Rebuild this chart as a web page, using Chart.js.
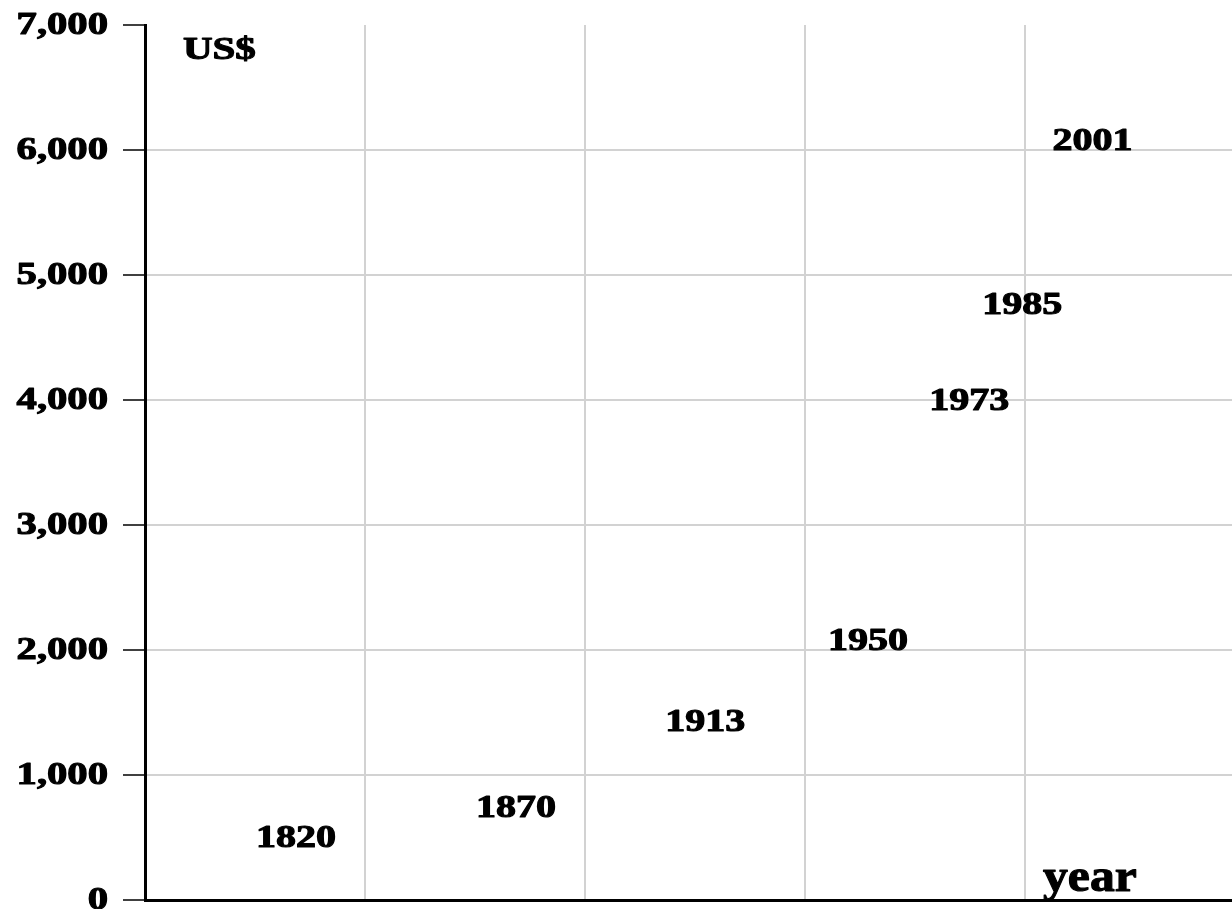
<!DOCTYPE html>
<html>
<head>
<meta charset="utf-8">
<script src="https://cdn.jsdelivr.net/npm/chart.js@4"></script>
<style>
  html, body { margin: 0; padding: 0; background: #fff; }
  #wrap { width: 1232px; height: 909px; position: relative; }
</style>
</head>
<body>
<div id="wrap"><canvas id="chart"></canvas></div>
<script>
// data
const years = [1820, 1870, 1913, 1950, 1973, 1985, 2001];
const gdpPerCapita = [510, 750, 1440, 2090, 4010, 4780, 6090];
const yTickValues = [0, 1000, 2000, 3000, 4000, 5000, 6000, 7000];
const xGridYears = [1800, 1850, 1900, 1950, 2000];

const serif = '"Liberation Serif", "Times New Roman", serif';
const gridGray = '#d2d2d2';

// draw text stretched horizontally like the original, a bit heavier
function drawStretched(ctx, text, x, y, sx, align) {
  ctx.save();
  ctx.translate(x, y);
  ctx.scale(sx, 1);
  ctx.textAlign = align;
  ctx.textBaseline = 'alphabetic';
  ctx.lineWidth = 1.1;
  ctx.lineJoin = 'round';
  ctx.strokeStyle = '#000';
  ctx.fillText(text, 0, 0);
  ctx.strokeText(text, 0, 0);
  ctx.restore();
}

const textPlugin = {
  id: 'textPlugin',
  afterDraw(chart) {
    const { ctx, chartArea, scales: { x, y } } = chart;
    ctx.save();
    ctx.fillStyle = '#000';
    ctx.font = 'bold 32px ' + serif;

    // y tick labels
    y.ticks.forEach(t => {
      drawStretched(ctx, t.value.toLocaleString('en-US'), chartArea.left - 37,
        y.getPixelForValue(t.value) + 9, 1.27, 'right');
    });

    // year labels next to each point
    years.forEach((yr, i) => {
      drawStretched(ctx, String(yr), x.getPixelForValue(yr) + 63,
        y.getPixelForValue(gdpPerCapita[i]) + 11, 1.25, 'center');
    });

    // axis titles inside the plot
    drawStretched(ctx, 'US$', chartArea.left + 38, chartArea.top + 34, 1.28, 'left');
    ctx.font = 'bold 46px ' + serif;
    drawStretched(ctx, 'year', chartArea.right - 189, chartArea.bottom - 9, 1.08, 'left');
    ctx.restore();
  }
};

const ctx = document.getElementById('chart').getContext('2d');
new Chart(ctx, {
  type: 'scatter',
  data: {
    datasets: [{
      data: years.map((yr, i) => ({ x: yr, y: gdpPerCapita[i] })),
      pointRadius: 0,
      pointHoverRadius: 0,
      showLine: false
    }]
  },
  options: {
    responsive: true,
    maintainAspectRatio: false,
    animation: false,
    layout: { padding: { top: 25, right: 0, bottom: 0, left: 0 } },
    plugins: {
      legend: { display: false },
      tooltip: { enabled: false }
    },
    scales: {
      x: {
        type: 'linear',
        min: 1800,
        max: 2047,
        afterBuildTicks: s => { s.ticks = xGridYears.map(v => ({ value: v })); },
        afterFit: s => { s.height = 9; },
        ticks: { display: false },
        grid: {
          color: c => (c.tick && c.tick.value === 1800) ? 'rgba(0,0,0,0)' : gridGray,
          lineWidth: 2,
          drawTicks: false
        },
        border: { color: '#000', width: 3 }
      },
      y: {
        min: 0,
        max: 7000,
        afterBuildTicks: s => { s.ticks = yTickValues.map(v => ({ value: v })); },
        afterFit: s => { s.width = 145; },
        ticks: { display: false },
        grid: {
          color: c => (c.tick && (c.tick.value === 0 || c.tick.value === 7000)) ? 'rgba(0,0,0,0)' : gridGray,
          lineWidth: 2,
          tickColor: '#000',
          tickWidth: 1.5,
          tickLength: 22
        },
        border: { color: '#000', width: 3 }
      }
    }
  },
  plugins: [textPlugin]
});
</script>
</body>
</html>
